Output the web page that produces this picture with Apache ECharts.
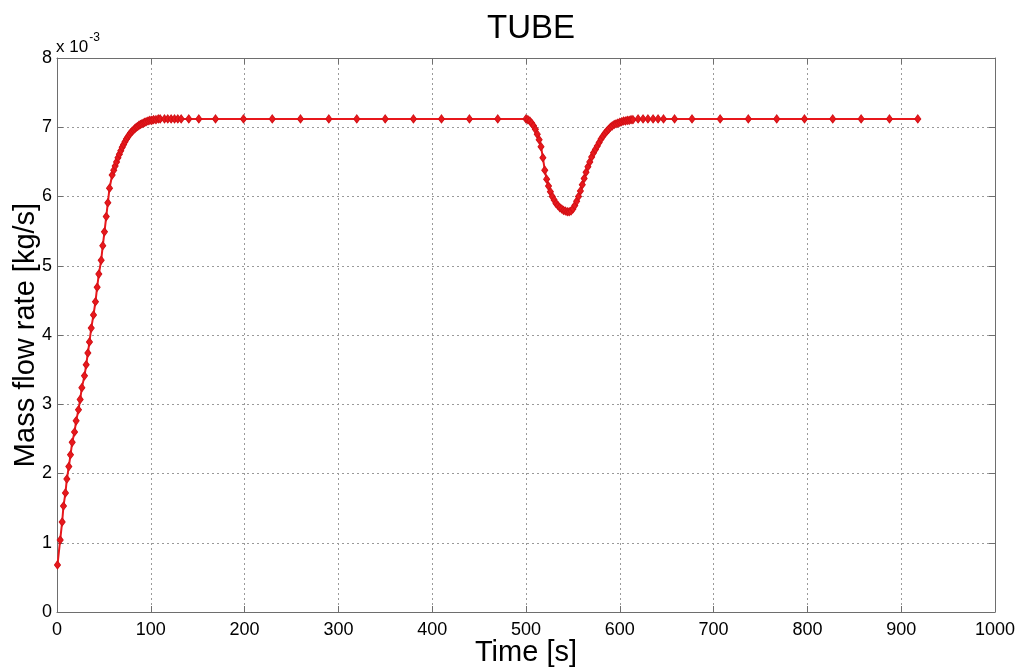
<!DOCTYPE html>
<html>
<head>
<meta charset="utf-8">
<script src="https://cdn.jsdelivr.net/npm/echarts@6/dist/echarts.min.js"></script>
<style>
html,body{margin:0;padding:0;background:#fff;}
#chart{width:1021px;height:668px;}
</style>
</head>
<body>
<div id="chart"></div>
<script>
// Time [s]
var timeValues = [
  0.5, 3.4, 5.5, 6.9, 9.0, 10.5, 12.6, 14.4, 16.2, 18.7, 20.4, 22.9, 24.7, 26.5, 29.3, 31.1, 32.9, 34.6, 36.5, 38.9,
  41.0, 42.8, 44.6, 47.1, 48.8, 50.6, 52.5, 54.2, 56.0, 58.8,
  60.5, 62, 63.5, 65, 66.5, 68, 69.5, 71, 72.5, 74, 75.5, 77, 78.5, 80, 81.5, 83, 84.5, 86, 87.5, 89,
  90.5, 92, 93.5, 95, 97, 99, 101, 103, 105.5, 108, 110, 114.6, 118.1, 121.7, 125.3, 128.8, 132.4, 140.5, 151.2, 169,
  198.8, 229.5, 259.6, 289.8, 319.6, 349.9, 380, 409.9, 439.7, 469.9,
  500, 502, 504, 506, 508, 510, 512, 514, 516, 518, 520, 522, 524, 526, 528, 530, 532, 534, 536, 538,
  540, 542, 544, 546, 548, 550, 552, 554, 556, 558, 560, 562, 564, 566, 568, 570, 572, 574, 576, 578,
  580, 582, 584, 586, 588, 590, 592, 594, 596, 598, 600, 602, 604, 606, 608, 610, 612, 614,
  619.5, 624.8, 630, 635.5, 640.8, 646.6, 658.4, 677, 707, 737, 767.3, 796.9, 827, 857.3, 887.5, 917.7
];
// Mass flow rate [kg/s] x 10^-3
var massFlow = [
  0.68, 1.04, 1.30, 1.53, 1.72, 1.92, 2.10, 2.27, 2.45, 2.60, 2.76, 2.92, 3.07, 3.24, 3.41, 3.57, 3.74, 3.90, 4.10, 4.29,
  4.48, 4.69, 4.88, 5.08, 5.29, 5.49, 5.71, 5.91, 6.12, 6.31,
  6.38, 6.44, 6.50, 6.56, 6.61, 6.66, 6.71, 6.75, 6.79, 6.83, 6.86, 6.89, 6.92, 6.94, 6.96, 6.98, 7.00, 7.01, 7.03, 7.04,
  7.05, 7.06, 7.07, 7.08, 7.09, 7.10, 7.10, 7.11, 7.11, 7.12, 7.12, 7.12, 7.12, 7.12, 7.12, 7.12, 7.12, 7.12, 7.12, 7.12,
  7.12, 7.12, 7.12, 7.12, 7.12, 7.12, 7.12, 7.12, 7.12, 7.12,
  7.12, 7.11, 7.09, 7.06, 7.02, 6.97, 6.90, 6.82, 6.72, 6.56, 6.38, 6.25, 6.15, 6.07, 6.00, 5.95, 5.90, 5.87, 5.84, 5.82,
  5.80, 5.79, 5.78, 5.78, 5.79, 5.82, 5.87, 5.93, 6.00, 6.08, 6.17, 6.26, 6.35, 6.43, 6.50, 6.57, 6.63, 6.68, 6.73, 6.78,
  6.83, 6.87, 6.91, 6.94, 6.97, 7.00, 7.02, 7.04, 7.05, 7.06, 7.07, 7.08, 7.09, 7.09, 7.10, 7.10, 7.11, 7.11,
  7.12, 7.12, 7.12, 7.12, 7.12, 7.12, 7.12, 7.12, 7.12, 7.12, 7.12, 7.12, 7.12, 7.12, 7.12, 7.12
];
var xTickLabels = ['0','100','200','300','400','500','600','700','800','900','1000'];
var yTickLabels = ['0','1','2','3','4','5','6','7','8'];

var FONT = '"Liberation Sans", Arial, sans-serif';
var seriesData = timeValues.map(function (t, i) { return [t, massFlow[i]]; });

var chart = echarts.init(document.getElementById('chart'), null, {renderer: 'canvas'});
var axisLineStyle = {color: '#6e6e6e', width: 1};
var option = {
  backgroundColor: '#ffffff',
  animation: false,
  title: {
    text: 'TUBE',
    left: 526, top: 7, textAlign: 'center',
    textStyle: {fontFamily: FONT, fontSize: 33, fontWeight: 'normal', color: '#000'}
  },
  grid: {left: 57, right: 26, top: 58, bottom: 56, containLabel: false, outerBoundsMode: 'none'},
  xAxis: [{
    type: 'value', min: 0, max: 1000, interval: 100, position: 'bottom',
    name: 'Time [s]', nameLocation: 'middle', nameGap: 26, nameMoveOverlap: false,
    nameTextStyle: {fontFamily: FONT, fontSize: 29, color: '#000'},
    axisLine: {show: true, lineStyle: axisLineStyle},
    axisTick: {show: true, inside: true, length: 6, lineStyle: axisLineStyle},
    axisLabel: {fontFamily: FONT, fontSize: 18, color: '#000', margin: 9,
      formatter: function (v) { return xTickLabels[Math.round(v / 100)]; }},
    splitLine: {show: true, lineStyle: {color: '#9a9a9a', type: [2, 3], width: 1}}
  }, {
    type: 'value', min: 0, max: 1000, interval: 100, position: 'top',
    axisLine: {show: true, onZero: false, lineStyle: axisLineStyle},
    axisTick: {show: true, inside: true, length: 6, lineStyle: axisLineStyle},
    axisLabel: {show: false}, splitLine: {show: false}
  }],
  yAxis: [{
    type: 'value', min: 0, max: 8, interval: 1, position: 'left',
    name: 'Mass flow rate [kg/s]', nameLocation: 'middle', nameGap: 17, nameMoveOverlap: false,
    nameTextStyle: {fontFamily: FONT, fontSize: 29, color: '#000'},
    axisLine: {show: true, lineStyle: axisLineStyle},
    axisTick: {show: true, inside: true, length: 6, lineStyle: axisLineStyle},
    axisLabel: {fontFamily: FONT, fontSize: 18, color: '#000', margin: 5,
      formatter: function (v) { return yTickLabels[Math.round(v)]; }},
    splitLine: {show: true, lineStyle: {color: '#9a9a9a', type: [2, 3], width: 1}}
  }, {
    type: 'value', min: 0, max: 8, interval: 1, position: 'right',
    axisLine: {show: true, onZero: false, lineStyle: axisLineStyle},
    axisTick: {show: true, inside: true, length: 6, lineStyle: axisLineStyle},
    axisLabel: {show: false}, splitLine: {show: false}
  }],
  graphic: [{
    type: 'text', left: 56, top: 32,
    style: {
      text: '{b|x 10}{s|-3}',
      rich: {
        b: {fontFamily: FONT, fontSize: 17, fill: '#000', verticalAlign: 'bottom', lineHeight: 24},
        s: {fontFamily: FONT, fontSize: 12, fill: '#000', verticalAlign: 'top', padding: [0, 0, 12, 1]}
      }
    }
  }],
  series: [{
    type: 'line',
    xAxisIndex: 0, yAxisIndex: 0,
    data: seriesData,
    showSymbol: true, showAllSymbol: true,
    symbol: 'diamond', symbolSize: [6, 8],
    itemStyle: {color: '#e8181c', borderColor: '#d21015', borderWidth: 1},
    lineStyle: {color: '#e8181c', width: 2},
    z: 5
  }]
};
chart.setOption(option);
</script>
</body>
</html>
